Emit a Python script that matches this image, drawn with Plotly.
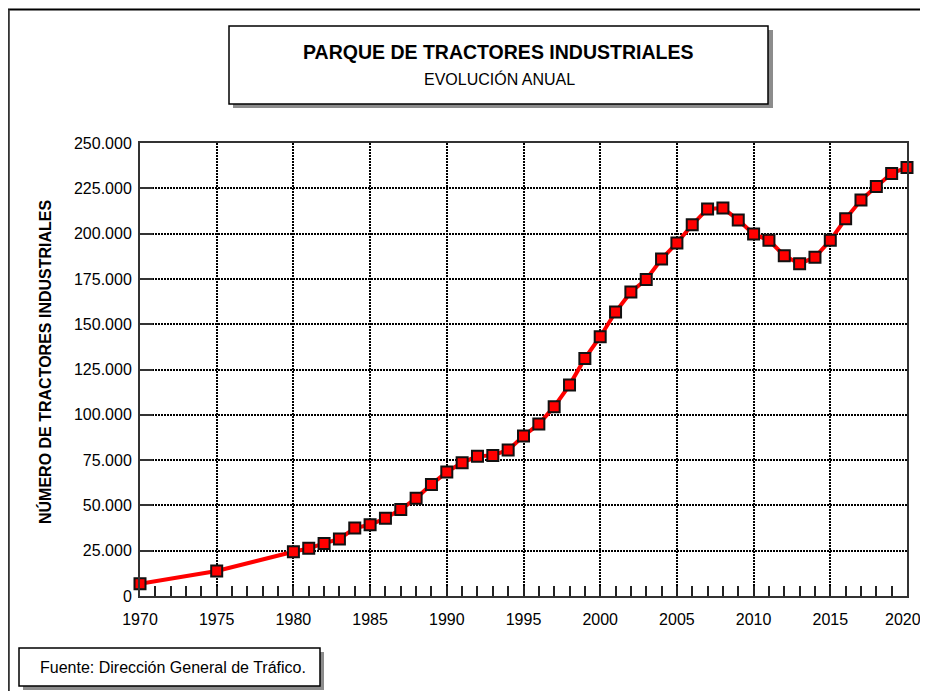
import plotly.graph_objects as go

years = [1970, 1975, 1980, 1981, 1982, 1983, 1984, 1985, 1986, 1987, 1988, 1989,
         1990, 1991, 1992, 1993, 1994, 1995, 1996, 1997, 1998, 1999, 2000, 2001,
         2002, 2003, 2004, 2005, 2006, 2007, 2008, 2009, 2010, 2011, 2012, 2013,
         2014, 2015, 2016, 2017, 2018, 2019, 2020]
tractores = [6800, 13800, 24400, 26300, 29000, 31500, 37500, 39300, 42900, 47800,
             53900, 61600, 68400, 73600, 77100, 77600, 80600, 88300, 94900, 104500,
             116400, 131100, 143100, 156700, 167800, 174700, 186000, 194800, 204900,
             213600, 214100, 207500, 199800, 196300, 187800, 183400, 186900, 196300,
             208200, 218500, 226000, 233200, 236500]
y_ticks = [0, 25000, 50000, 75000, 100000, 125000, 150000, 175000, 200000, 225000, 250000]
y_labels = ["0", "25.000", "50.000", "75.000", "100.000", "125.000", "150.000",
            "175.000", "200.000", "225.000", "250.000"]
x_ticks = [1970, 1975, 1980, 1985, 1990, 1995, 2000, 2005, 2010, 2015, 2020]
x_labels = [str(v) for v in x_ticks]

# the page body adds an 8px margin on every side; size the figure so the page fits the window
OFF = 8
W, H = 928 - 2 * OFF, 699 - 2 * OFF
SL, SR, ST, SB = 140, 907, 143, 596          # plot area in screen pixels
L, R, T, B = SL - OFF, SR - OFF, ST - OFF, SB - OFF
FONT = "Liberation Sans, Arial, sans-serif"

def px(x):
    return (x - OFF - L) / (R - L)

def py(y):
    return (B - (y - OFF)) / (B - T)

fig = go.Figure()
fig.add_trace(go.Scatter(
    x=years, y=tractores, mode="lines+markers",
    line=dict(color="#ff0000", width=4),
    marker=dict(symbol="square", size=11, color="#ff0000",
                line=dict(color="#111111", width=2)),
    showlegend=False, cliponaxis=False,
))

shapes = []
# outer frame (top and left)
shapes.append(dict(type="line", xref="paper", yref="paper", x0=px(8), x1=px(920), y0=py(9.5), y1=py(9.5),
                   line=dict(color="#000000", width=2)))
shapes.append(dict(type="line", xref="paper", yref="paper", x0=px(8.8), x1=px(8.8), y0=py(9.5), y1=py(691),
                   line=dict(color="#333333", width=2)))
# title box shadow + box
shapes.append(dict(type="rect", xref="paper", yref="paper", x0=px(233), x1=px(773), y0=py(30), y1=py(108),
                   fillcolor="#8c8c8c", line=dict(width=0)))
shapes.append(dict(type="rect", xref="paper", yref="paper", x0=px(229), x1=px(768), y0=py(26), y1=py(104),
                   fillcolor="#ffffff", line=dict(color="#000000", width=1.5)))
# footer box shadow + box
shapes.append(dict(type="rect", xref="paper", yref="paper", x0=px(23), x1=px(324), y0=py(652), y1=py(690),
                   fillcolor="#8c8c8c", line=dict(width=0)))
shapes.append(dict(type="rect", xref="paper", yref="paper", x0=px(19), x1=px(320), y0=py(648), y1=py(686),
                   fillcolor="#ffffff", line=dict(color="#000000", width=1.5)))

annotations = [
    dict(text="<b>PARQUE DE TRACTORES INDUSTRIALES</b>", xref="paper", yref="paper",
         x=px(498), y=py(52), showarrow=False, font=dict(family=FONT, size=19.5, color="#000000"),
         xanchor="center", yanchor="middle"),
    dict(text="EVOLUCIÓN ANUAL", xref="paper", yref="paper",
         x=px(499), y=py(79), showarrow=False, font=dict(family=FONT, size=16, color="#000000"),
         xanchor="center", yanchor="middle"),
    dict(text="Fuente: Dirección General de Tráfico.", xref="paper", yref="paper",
         x=px(173), y=py(667), showarrow=False, font=dict(family=FONT, size=16, color="#000000"),
         xanchor="center", yanchor="middle"),
    dict(text="<b>NÚMERO DE TRACTORES INDUSTRIALES</b>", xref="paper", yref="paper",
         x=px(45), y=py(362), showarrow=False, textangle=-90,
         font=dict(family=FONT, size=16, color="#000000"),
         xanchor="center", yanchor="middle"),
    # last x label drawn inside the page so it is not hidden at the page edge
    dict(text=x_labels[-1], xref="x", yref="paper", x=x_ticks[-1], xshift=-4,
         y=py(619.5), showarrow=False, font=dict(family=FONT, size=16, color="#000000"),
         xanchor="center", yanchor="middle"),
]

fig.update_layout(
    width=W, height=H,
    margin=dict(l=L, r=W - R, t=T, b=H - B),
    paper_bgcolor="#ffffff", plot_bgcolor="#ffffff",
    shapes=shapes, annotations=annotations,
    font=dict(family=FONT, size=16, color="#000000"),
)
fig.update_xaxes(
    range=[1970, 2020], tickvals=x_ticks, ticktext=x_labels[:-1] + [""],
    ticks="inside", ticklen=10, tickwidth=1.5, ticklabelstandoff=8,
    tickcolor="#222222", showline=True, linecolor="#333333", linewidth=2, mirror=True,
    showgrid=True, gridcolor="#000000", gridwidth=2, griddash="2px,1px",
    minor=dict(dtick=1, ticks="inside", ticklen=10, tickwidth=1.5, tickcolor="#222222", showgrid=False),
    tickfont=dict(family=FONT, size=16), zeroline=False,
)
fig.update_yaxes(
    range=[0, 250000], tickvals=y_ticks, ticktext=y_labels, ticks="inside", ticklen=13,
    tickwidth=2, tickcolor="#333333", showline=True, linecolor="#333333", linewidth=2, mirror=True,
    showgrid=True, gridcolor="#000000", gridwidth=2, griddash="2px,1px", ticklabelstandoff=3,
    tickfont=dict(family=FONT, size=16), zeroline=False,
)
fig.write_html("out.html")
